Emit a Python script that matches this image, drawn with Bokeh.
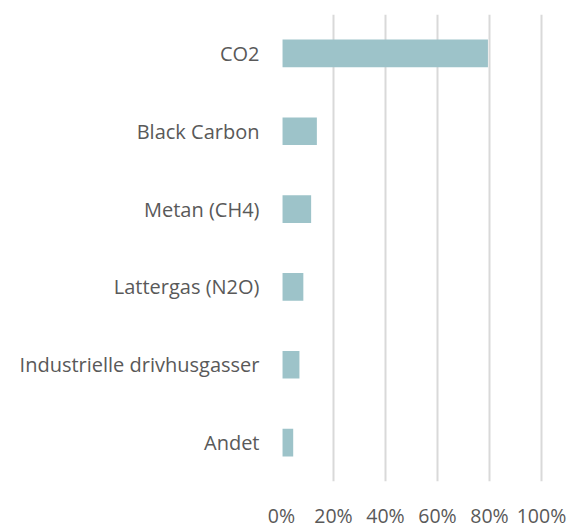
from bokeh.plotting import figure
from bokeh.models import FactorRange, Range1d, FixedTicker, NumeralTickFormatter
from bokeh.embed import file_html
from bokeh.resources import INLINE

categories = ["CO2", "Black Carbon", "Metan (CH4)", "Lattergas (N2O)",
              "Industrielle drivhusgasser", "Andet"]
shares = [0.794, 0.136, 0.114, 0.084, 0.069, 0.045]
x_ticks = [0, 0.2, 0.4, 0.6, 0.8, 1.0]

TEXT = "#595959"
FONT = "Open Sans"

p = figure(width=570, height=531, output_backend="svg", toolbar_location=None,
           y_range=FactorRange(*reversed(categories), range_padding=0),
           x_range=Range1d(0, 263 / 260),
           min_border_left=281, min_border_right=26, min_border_top=14,
           min_border_bottom=41)
p.outline_line_color = None
p.background_fill_color = "white"
p.border_fill_color = "white"

p.hbar(y=categories, right=shares, left=0.004, height=0.355,
       fill_color="#9DC3C9", line_color=None)

p.xgrid.ticker = FixedTicker(ticks=x_ticks)
p.xgrid.grid_line_color = "#D9D9D9"
p.xgrid.grid_line_width = 2
p.ygrid.grid_line_color = None

p.xaxis.ticker = FixedTicker(ticks=x_ticks)
p.xaxis.formatter = NumeralTickFormatter(format="0%")
p.xaxis.axis_line_color = None
p.xaxis.major_tick_line_color = None
p.xaxis.minor_tick_line_color = None
p.xaxis.major_tick_out = 0
p.xaxis.major_tick_in = 0
p.xaxis.major_label_standoff = 20
p.xaxis.major_label_text_font = FONT
p.xaxis.major_label_text_font_size = "19.5px"
p.xaxis.major_label_text_color = TEXT

p.yaxis.axis_line_color = None
p.yaxis.major_tick_line_color = None
p.yaxis.major_tick_out = 0
p.yaxis.major_tick_in = 0
p.yaxis.major_label_standoff = 22
p.yaxis.major_label_text_font = FONT
p.yaxis.major_label_text_font_size = "20px"
p.yaxis.major_label_text_color = TEXT

open("out.html", "w").write(file_html(p, INLINE))
